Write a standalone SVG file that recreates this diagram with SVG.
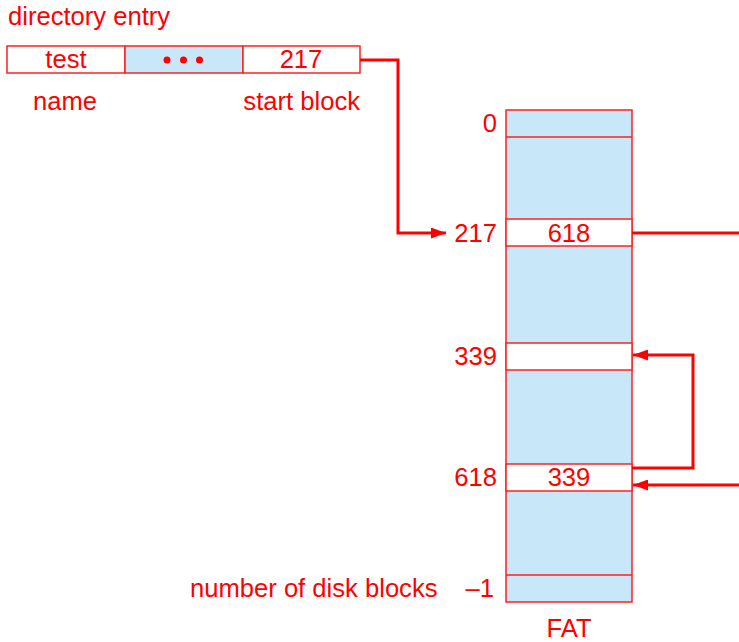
<svg xmlns="http://www.w3.org/2000/svg" width="739" height="642" viewBox="0 0 739 642">
<style>
text{font-family:"Liberation Sans",Arial,sans-serif;font-size:25.6px;fill:#ff0000}
.c{text-anchor:middle}
.r{text-anchor:end}
.cell{stroke:#ff2020;stroke-width:1.5}
.blue{fill:#c8e8fa}
.white{fill:#ffffff}
.conn{fill:none;stroke:#ff0000;stroke-width:3}
</style>
<defs>
<marker id="ah" markerUnits="userSpaceOnUse" markerWidth="15" markerHeight="11" refX="15" refY="5.5" orient="auto">
<path d="M0,0 L15,5.5 L0,11 z" fill="#ff0000"/>
</marker>
</defs>
<g id="directory-entry">
<text x="8" y="25">directory entry</text>
<rect class="cell white" x="7" y="46" width="118" height="27"/>
<rect class="cell blue" x="125" y="46" width="118" height="27"/>
<rect class="cell white" x="243" y="46" width="117" height="27"/>
<text class="c" x="66" y="68">test</text>
<circle cx="167" cy="60" r="3.5" fill="#ff0000"/>
<circle cx="183.5" cy="60" r="3.5" fill="#ff0000"/>
<circle cx="199.5" cy="60" r="3.5" fill="#ff0000"/>
<text class="c" x="301" y="68">217</text>
<text class="c" x="65" y="110">name</text>
<text class="r" x="360" y="110">start block</text>
</g>
<g id="fat">
<rect class="cell blue" x="506" y="110" width="126" height="492"/>
<line class="cell" x1="506" y1="137" x2="632" y2="137"/>
<rect class="cell white" x="506" y="219" width="126" height="27"/>
<rect class="cell white" x="506" y="343" width="126" height="27"/>
<rect class="cell white" x="506" y="464" width="126" height="27"/>
<line class="cell" x1="506" y1="575" x2="632" y2="575"/>
<text class="r" x="497" y="132">0</text>
<text class="r" x="497" y="242">217</text>
<text class="c" x="569" y="242">618</text>
<text class="r" x="497" y="365">339</text>
<text class="r" x="497" y="486">618</text>
<text class="c" x="569" y="486">339</text>
<text class="r" x="494" y="597">–1</text>
<text x="190" y="597">number of disk blocks</text>
<text class="c" x="569" y="637">FAT</text>
</g>
<g id="connectors">
<path class="conn" d="M360,60 H398 V233 H446" marker-end="url(#ah)"/>
<path class="conn" d="M632,233 H739"/>
<path class="conn" d="M632,468 H693 V355 H633" marker-end="url(#ah)"/>
<path class="conn" d="M739,485 H633" marker-end="url(#ah)"/>
</g>
</svg>
